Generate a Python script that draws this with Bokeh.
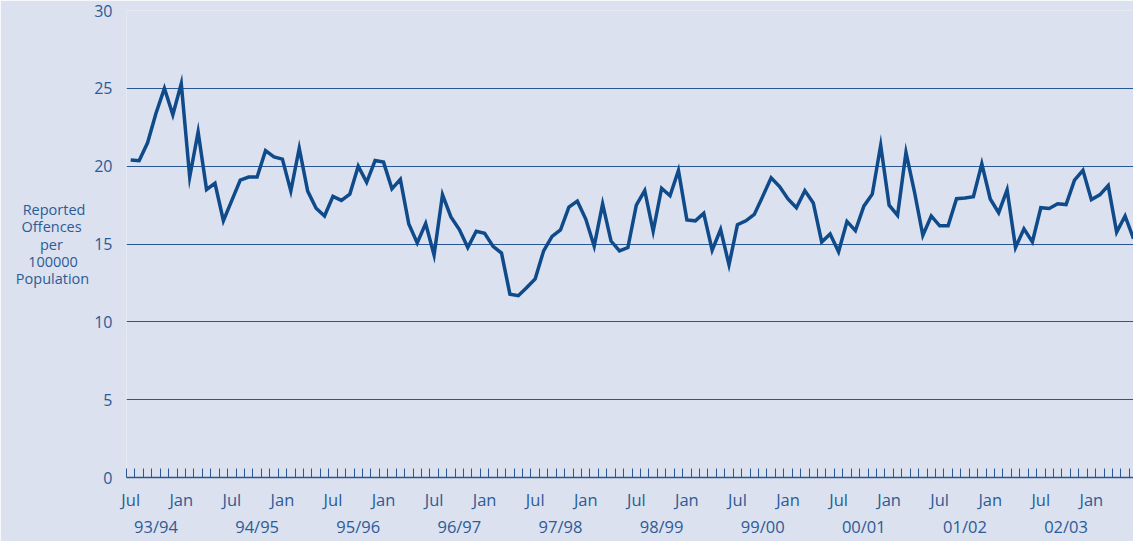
from bokeh.plotting import figure
from bokeh.models import FixedTicker, Range1d
from bokeh.embed import file_html
from bokeh.resources import INLINE

# Monthly rate, Jul 1993 .. Jun 2003
month_index = list(range(120))
rates = [
    20.4, 20.35, 21.5, 23.4, 25.0, 23.3, 25.3, 19.3, 22.2, 18.5, 18.9, 16.5,
    17.8, 19.1, 19.3, 19.3, 21.0, 20.6, 20.45, 18.4, 21.15, 18.4, 17.3, 16.8,
    18.06, 17.8, 18.2, 20.0, 18.96, 20.36, 20.26, 18.54, 19.15, 16.28, 15.07, 16.32,
    14.29, 18.16, 16.74, 15.93, 14.77, 15.82, 15.69, 14.85, 14.42, 11.78, 11.68, 12.2,
    12.76, 14.56, 15.49, 15.9, 17.37, 17.75, 16.6, 14.86, 17.58, 15.19, 14.56, 14.77,
    17.49, 18.43, 15.82, 18.58, 18.1, 19.73, 16.55, 16.49, 16.97, 14.6, 15.93, 13.66,
    16.24, 16.49, 16.9, 18.06, 19.25, 18.69, 17.89, 17.33, 18.43, 17.64, 15.13, 15.65,
    14.5, 16.45, 15.86, 17.43, 18.2, 21.34, 17.49, 16.84, 20.88, 18.37, 15.55, 16.8,
    16.17, 16.17, 17.91, 17.95, 18.04, 20.15, 17.89, 17.01, 18.48, 14.77, 15.97, 15.13,
    17.33, 17.28, 17.58, 17.53, 19.1, 19.73, 17.85, 18.16, 18.75, 15.76, 16.8, 15.34,
]

month_tick_pos = list(range(0, 120, 6))
month_tick_labels = ["Jul", "Jan"] * 10
year_tick_pos = [3 + 12 * k for k in range(10)]
year_labels = ["93/94", "94/95", "95/96", "96/97", "97/98",
               "98/99", "99/00", "00/01", "01/02", "02/03"]
y_ticks = [0, 5, 10, 15, 20, 25, 30]
y_title_lines = ["Reported", "Offences", "per", "100000", "Population"]

BG = "#dbe1ee"
TXT = "#2c5b97"
LINE = "#0f4a8a"
GRID = "#2a5791"
FONT = "Open Sans"
NB = "\u00a0"

p = figure(width=1133, height=541, output_backend="svg", toolbar_location=None,
           x_range=Range1d(-0.5, 119), y_range=Range1d(0, 30),
           min_border_left=126, min_border_right=0, min_border_top=10,
           min_border_bottom=53)
p.background_fill_color = BG
p.border_fill_color = BG
p.outline_line_color = None

p.line(month_index, rates, line_color=LINE, line_width=3.5, line_join="miter")

# grid
p.xgrid.visible = False
p.ygrid.ticker = FixedTicker(ticks=y_ticks)
p.ygrid.grid_line_color = GRID
p.ygrid.grid_line_width = 1

# y axis
ya = p.yaxis[0]
ya.ticker = FixedTicker(ticks=y_ticks)
ya.axis_line_color = None
ya.major_tick_line_color = None
ya.minor_tick_line_color = None
ya.major_label_text_font = FONT
ya.major_label_text_font_size = "16px"
ya.major_label_text_color = TXT
ya.major_label_standoff = 8
# lines are right-aligned by the axis; trailing no-break spaces centre them
pads = [1, 2, 7, 3, 0]
ya.axis_label = "\n".join(t + NB * n for t, n in zip(y_title_lines, pads))
ya.axis_label_orientation = "horizontal"
ya.axis_label_text_font = FONT
ya.axis_label_text_font_size = "14.5px"
ya.axis_label_text_font_style = "normal"
ya.axis_label_text_color = TXT
ya.axis_label_text_line_height = 0.92
ya.axis_label_standoff = 2

# month + season axis (season on a second label line)
labels = {}
for pos, lab in zip(month_tick_pos, month_tick_labels):
    labels[pos] = lab
for pos, lab in zip(year_tick_pos, year_labels):
    labels[pos] = "\n" + lab
xa = p.xaxis[0]
xa.ticker = FixedTicker(ticks=sorted(labels),
                        minor_ticks=[i - 0.5 for i in month_index])
xa.major_label_overrides = labels
xa.axis_line_color = GRID
xa.axis_line_width = 1.5
xa.major_tick_line_color = None
xa.minor_tick_line_color = GRID
xa.minor_tick_line_width = 1
xa.minor_tick_in = 9
xa.minor_tick_out = 0
xa.major_label_text_font = FONT
xa.major_label_text_font_size = "16.5px"
xa.major_label_text_color = TXT
xa.major_label_text_line_height = 1.2
xa.major_label_standoff = 4
xa.axis_label_standoff = 0

open("out.html", "w").write(file_html(p, INLINE))
